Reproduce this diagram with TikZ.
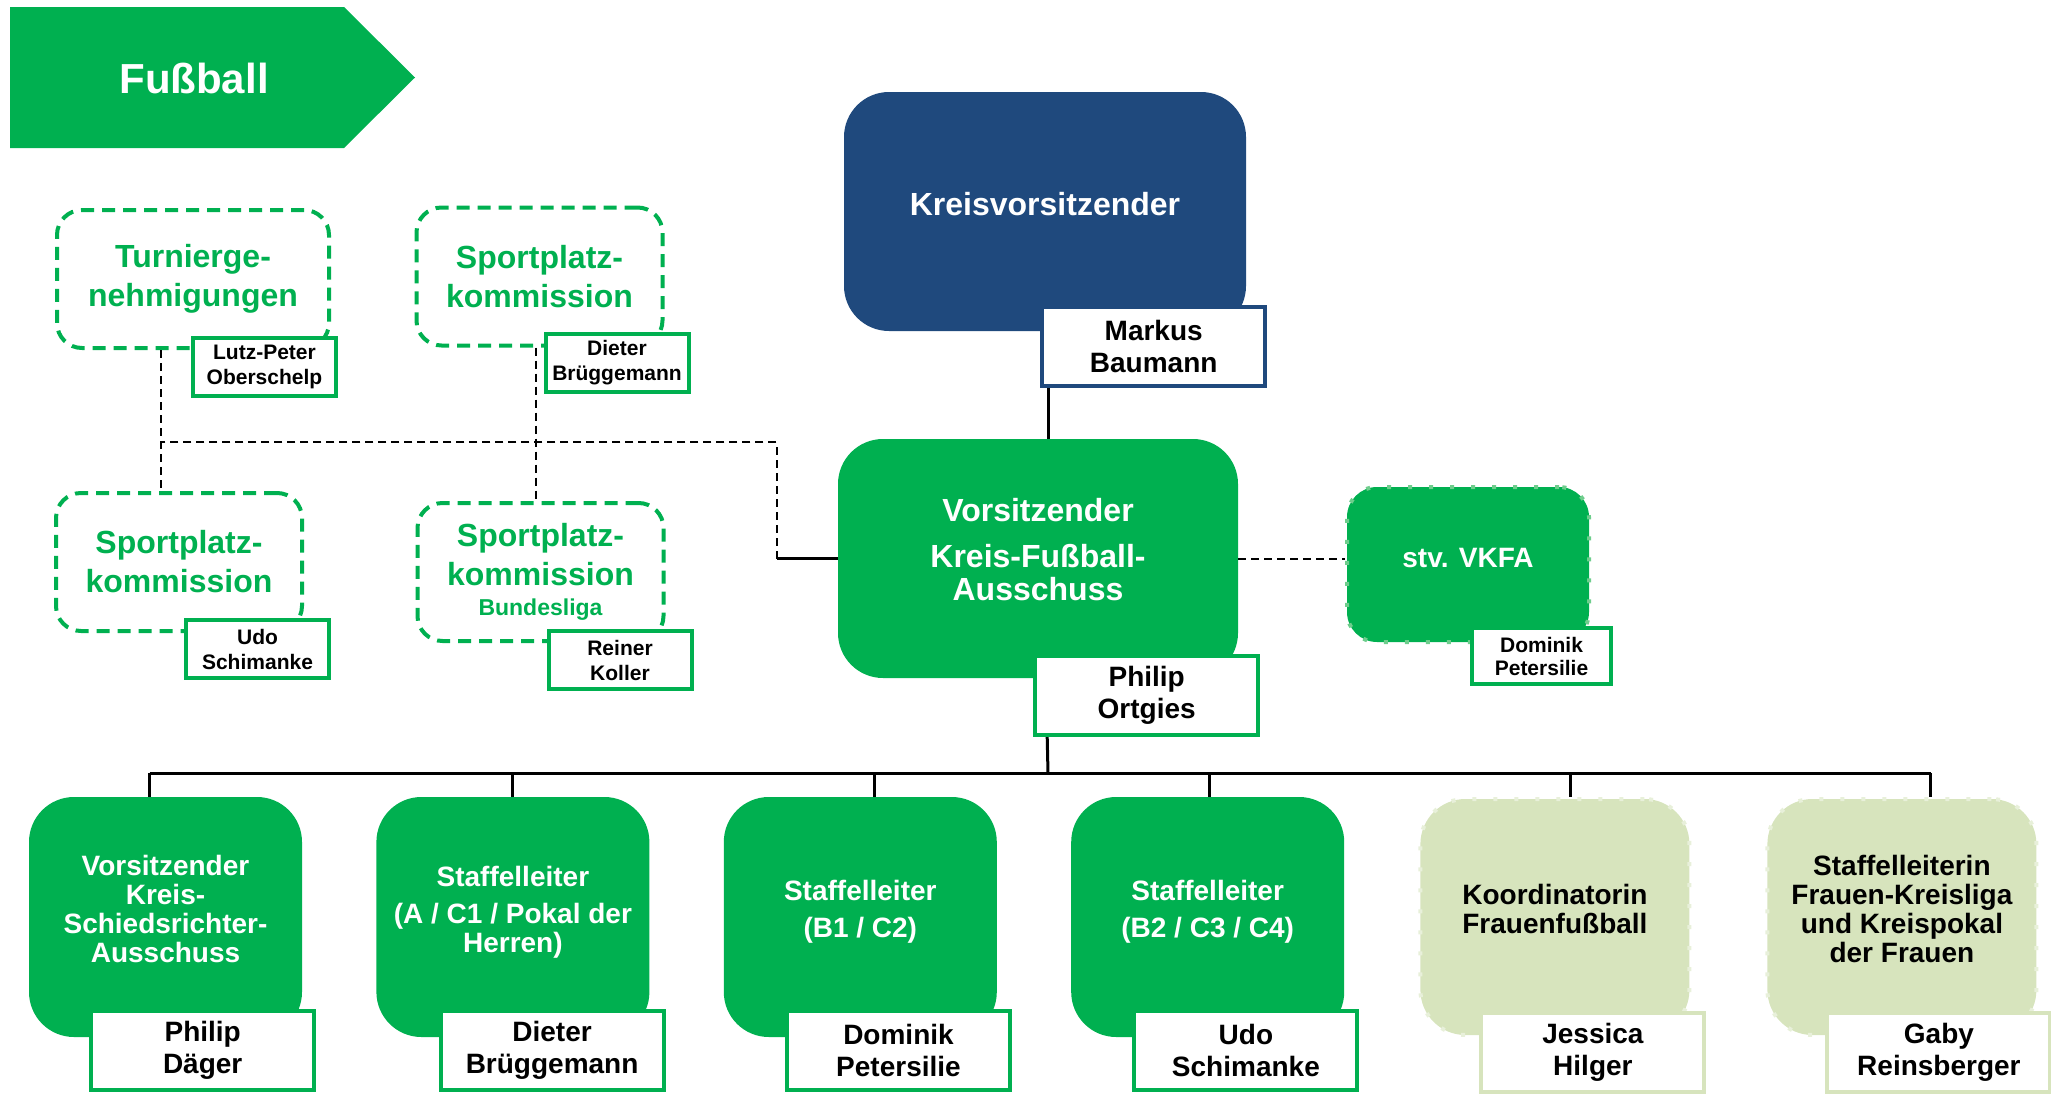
\documentclass[tikz,border=0pt]{standalone}
\usepackage{fontspec}
\setmainfont{Liberation Sans}
\usepackage{xcolor}
\usetikzlibrary{positioning}

\definecolor{kgreen}{RGB}{0,176,80}
\definecolor{kblue}{RGB}{31,73,125}
\definecolor{klight}{RGB}{215,228,189}
\definecolor{kdots}{RGB}{110,205,140}
\definecolor{klightdots}{RGB}{232,240,218}

\begin{document}
\begin{tikzpicture}[x=1pt, y=-1pt, node distance=74pt]
\tikzstyle{chief}=[rounded corners=45pt,fill=kblue,text=white,minimum width=402pt,minimum height=239pt,align=center,text depth=16pt,font=\fontsize{32}{35}\selectfont\bfseries]
\tikzstyle{board}=[rounded corners=45pt,fill=kgreen,text=white,minimum width=400pt,minimum height=239pt,align=center,text depth=18pt,font=\fontsize{32}{33}\selectfont\bfseries]
\tikzstyle{deputy}=[rounded corners=30pt,fill=kgreen,draw=kdots,line width=4pt,dash pattern=on 4pt off 17pt,text=white,minimum width=242pt,minimum height=155pt,align=center,text depth=14pt,font=\fontsize{28}{31}\selectfont\bfseries]
\tikzstyle{post}=[rounded corners=45pt,fill=kgreen,text=white,minimum width=273pt,minimum height=240pt,align=center,text depth=16pt,font=\fontsize{28}{29}\selectfont\bfseries]
\tikzstyle{womenpost}=[post,fill=klight,text=black,draw=klightdots,line width=4pt,dash pattern=on 4pt off 17pt,minimum width=269pt,minimum height=236pt]
\tikzstyle{commission}=[draw=kgreen,line width=4pt,dash pattern=on 13pt off 8pt,rounded corners=25pt,text=kgreen,minimum width=246pt,minimum height=138pt,align=center,font=\fontsize{32}{39}\selectfont\bfseries]
\tikzstyle{holder}=[draw=kgreen,fill=white,line width=4pt,minimum width=223pt,minimum height=79pt,align=center,font=\fontsize{28}{32}\selectfont\bfseries]
\tikzstyle{smallholder}=[holder,minimum width=143pt,minimum height=58pt,font=\fontsize{21}{25}\selectfont\bfseries]
\tikzstyle{conn}=[line width=3pt]
\tikzstyle{dline}=[line width=2pt,dash pattern=on 8pt off 5pt]

\useasboundingbox (0,0) rectangle (2051,1095);

% title banner
\fill[kgreen] (10,7) -- (344,7) -- (415,77.5) -- (344,148) -- (10,148) -- cycle;
\node[text=white,font=\fontsize{42}{46}\selectfont\bfseries] (title) at (194,78) {Fußball};

% commissions
\node[commission,minimum width=272pt] (turnier) at (193,279) {Turnierge-\\nehmigungen};
\node[commission] (sptop) at (539.5,276.5) {Sportplatz-\\kommission};
\node[commission] (lowleft) at (179,562) {Sportplatz-\\kommission};
\node[commission] (bund) at (540.5,572) {Sportplatz-\\kommission\\[-9pt]{\fontsize{23}{25}\selectfont Bundesliga}};
\node[smallholder,anchor=north east,xshift=7pt,yshift=14pt] (turniername) at (turnier.south east) {Lutz-Peter\\Oberschelp};
\node[smallholder,anchor=north east,xshift=26pt,yshift=16pt] (sptopname) at (sptop.south east) {Dieter\\Brüggemann};
\node[smallholder,anchor=north east,xshift=27pt,yshift=15pt] (lowleftname) at (lowleft.south east) {Udo\\Schimanke};
\node[smallholder,anchor=north east,xshift=28pt,yshift=14pt] (bundname) at (bund.south east) {Reiner\\Koller};

% head
\node[chief] (kv) at (1045,211.5) {Kreisvorsitzender};
\node[holder,draw=kblue,anchor=north east,xshift=21pt,yshift=26pt] (kvname) at (kv.south east) {Markus\\Baumann};
\node[board] (kfa) at (1038,558.5) {Vorsitzender\\[13pt]Kreis-Fußball-\\Ausschuss};
\node[holder,anchor=north east,xshift=22pt,yshift=24pt] (kfaname) at (kfa.south east) {Philip\\Ortgies};
\node[deputy] (vkfa) at (1468,564.5) {stv. VKFA};
\node[smallholder,minimum width=139pt,minimum height=56pt,font=\fontsize{21}{23}\selectfont\bfseries,anchor=north east,xshift=22pt,yshift=18pt] (vkfaname) at (vkfa.south east) {Dominik\\Petersilie};

% bottom row
\node[post] (b1) at (165.5,917) {Vorsitzender\\Kreis-\\Schiedsrichter-\\Ausschuss};
\node[post,right=of b1] (b2) {Staffelleiter\\[8pt](A / C1 / Pokal der\\Herren)};
\node[post,right=of b2] (b3) {Staffelleiter\\[8pt](B1 / C2)};
\node[post,right=of b3] (b4) {Staffelleiter\\[8pt](B2 / C3 / C4)};
\node[womenpost,right=of b4] (b5) {Koordinatorin\\Frauenfußball};
\node[womenpost,right=of b5] (b6) {Staffelleiterin\\Frauen-Kreisliga\\und Kreispokal\\der Frauen};
\node[holder,anchor=north east,xshift=14pt,yshift=28pt] (b1name) at (b1.south east) {Philip\\Däger};
\node[holder,anchor=north east,xshift=16pt,yshift=28pt] (b2name) at (b2.south east) {Dieter\\Brüggemann};
\node[holder,anchor=north east,xshift=15pt,yshift=28pt] (b3name) at (b3.south east) {Dominik\\Petersilie};
\node[holder,anchor=north east,xshift=15pt,yshift=28pt] (b4name) at (b4.south east) {Udo\\Schimanke};
\node[holder,draw=klight,anchor=north east,xshift=15pt,yshift=26pt] (b5name) at (b5.south east) {Jessica\\Hilger};
\node[holder,draw=klight,anchor=north east,xshift=14pt,yshift=26pt] (b6name) at (b6.south east) {Gaby\\Reinsberger};

% connectors
\coordinate (bus) at (1048,773);
\coordinate (dbus) at (776,442);
\draw[conn] ([xshift=8pt]kvname.south west) -- ([xshift=8pt]kvname.south west |- kfa.north);
\draw[conn] ([xshift=14pt]kfaname.south west) -- (bus);
\draw[conn] ([xshift=-16pt]b1.north |- bus) -- ([xshift=29pt]b6.north |- bus);
\foreach \b/\dx in {b1/-16,b2/0,b3/14,b4/2,b5/16,b6/29}
  \draw[conn] ([xshift=\dx pt]\b.north |- bus) -- ([xshift=\dx pt]\b.north);
\draw[conn] (kfa.west) -- ++(-61pt,0) coordinate (jn);
\draw[dline] (jn) -- (jn |- dbus) -- ([xshift=-32pt]turnier.south |- dbus);
\draw[dline] ([xshift=-32pt]turnier.south) -- ([xshift=-32pt]turnier.south |- lowleft.north);
\draw[dline] ([xshift=-4pt]sptop.south) -- ([xshift=-4pt]sptop.south |- bund.north);
\draw[dline] (kfa.east) -- (kfa.east -| vkfa.west);
\end{tikzpicture}
\end{document}
